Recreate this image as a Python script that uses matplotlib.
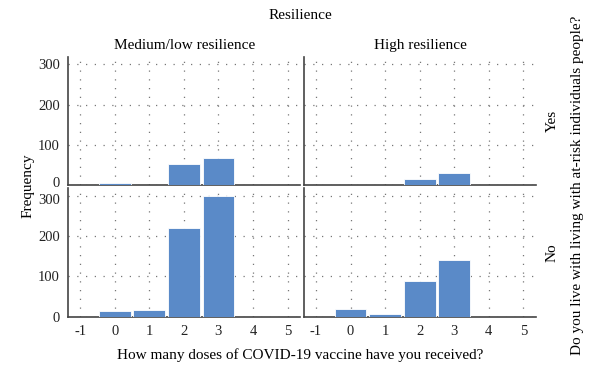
import matplotlib.pyplot as plt
import matplotlib.transforms as mtransforms
import numpy as np

plt.rcParams['font.family'] = ['Liberation Serif', 'DejaVu Serif']
plt.rcParams['axes.unicode_minus'] = False

doses = [0, 1, 2, 3, 4, 5]
# rows: lives with at-risk people (Yes / No); columns: resilience level
yes_medlow = [6, 2, 52, 69, 1, 0]
yes_high = [2, 2, 17, 30, 1, 0]
no_medlow = [15, 16, 221, 299, 0, 0]
no_high = [19, 8, 89, 140, 0, 0]
col_titles = ["Medium/low resilience", "High resilience"]
row_titles = ["Yes", "No"]
xticks = [-1, 0, 1, 2, 3, 4, 5]
yticks = [0, 100, 200, 300]

data = [[yes_medlow, yes_high], [no_medlow, no_high]]
bar_color = "#5a8ac8"
spine_color = "#444444"

fig = plt.figure(figsize=(6, 3.83), dpi=100)
lefts = [0.114, 0.507]
bottoms = [0.516, 0.173]
w, h = 0.386, 0.335

for r in range(2):
    for c in range(2):
        ax = fig.add_axes([lefts[c], bottoms[r], w, h])
        ax.bar(doses, data[r][c], width=0.92, color=bar_color,
               edgecolor="white", linewidth=0.6, zorder=3)
        ax.set_xlim(-1.34, 5.36)
        ax.set_ylim(0, 318)
        ax.set_xticks(xticks)
        ax.set_yticks(yticks)
        ax.grid(True, color="#777777", linestyle=(0, (1, 6)), linewidth=0.9, zorder=0)
        for s in ["top", "right"]:
            ax.spines[s].set_visible(False)
        for s in ["left", "bottom"]:
            ax.spines[s].set_color(spine_color)
            ax.spines[s].set_linewidth(1.2)
        ax.tick_params(length=0, labelsize=10.5, colors="#222222", pad=6)
        if c == 1:
            ax.set_yticklabels([])
        else:
            # keep the "0" of the top row and "300" of the bottom row apart
            yt = ax.yaxis.get_major_ticks()
            if r == 0:
                lab, dy = yt[0].label1, 2.5
            else:
                lab, dy = yt[-1].label1, -2.5
            lab.set_transform(lab.get_transform() +
                              mtransforms.ScaledTranslation(0, dy / 72, fig.dpi_scale_trans))
        if r == 0:
            ax.set_xticklabels([])
            ax.set_title(col_titles[c], fontsize=11, pad=6)
        if c == 1:
            ax.text(1.07, 0.5, row_titles[r], transform=ax.transAxes,
                    rotation=90, ha="center", va="center", fontsize=11)

fig.text(0.5, 0.96, "Resilience", ha="center", va="center", fontsize=11)
fig.text(0.047, 0.515, "Frequency", rotation=90, ha="center", va="center", fontsize=11)
fig.text(0.962, 0.515, "Do you live with living with at-risk individuals people?",
         rotation=90, ha="center", va="center", fontsize=11)
fig.text(0.5, 0.073, "How many doses of COVID-19 vaccine have you received?",
         ha="center", va="center", fontsize=11)

fig.savefig("out.png", dpi=100)
